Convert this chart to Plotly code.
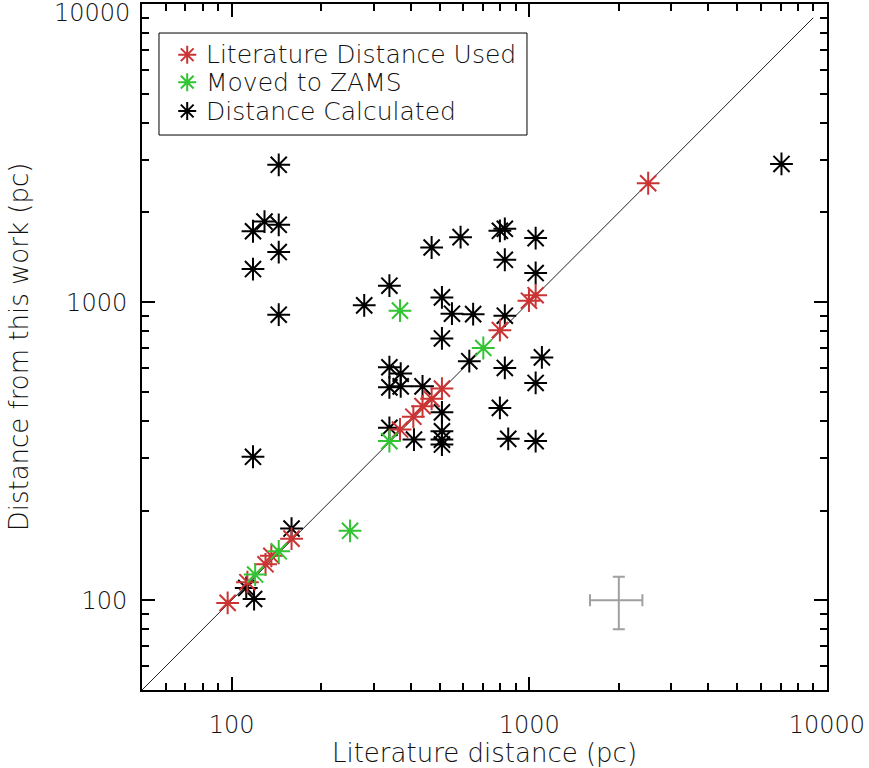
import plotly.graph_objects as go

# Distances in parsec: (literature value, value derived in this work)
calc_lit = [118, 129, 144, 144, 144, 118, 144, 118, 159, 119, 112,
            279, 339, 470, 588, 797, 828, 1051, 828, 1051,
            509, 550, 648, 828, 509, 629, 1103, 828, 1051,
            339, 370, 339, 370, 438, 509, 797, 339, 410, 509, 509, 509,
            850, 1051, 7040]
calc_this = [1730, 1865, 1818, 2890, 1473, 1292, 908, 303, 174, 101, 110,
             976, 1136, 1526, 1653, 1736, 1763, 1641, 1388, 1253,
             1038, 915, 912, 901, 756, 634, 653, 602, 536,
             605, 576, 518, 522, 522, 427, 442, 379, 346, 369, 346, 333,
             348, 342, 2910]

lit_lit = [97, 113, 130, 136, 159, 368, 408, 438, 470, 509, 797, 998, 1051, 2510]
lit_this = [98, 115, 132, 141, 161, 374, 413, 448, 474, 513, 806, 1012, 1056, 2507]

zams_lit = [120, 144, 250, 339, 368, 701]
zams_this = [122, 146, 171, 342, 937, 702]

# Typical uncertainty shown as a single cross
err_x, err_y = [2000], [100]
err_dx, err_dy = [400], [20]

one_to_one = [50, 9000]

major_ticks = [100, 1000, 10000]
major_text = ["100", "1000", "10000"]

legend_names = ["Literature Distance Used", "Moved to ZAMS", "Distance Calculated"]

RED = "#cc3333"
GREEN = "#33c433"
TXT = "#111111"
FONT = "DejaVu Sans, sans-serif"
FS = 24


def txt_font(size=FS):
    return dict(family=FONT, size=size, color=TXT, weight=200)


fig = go.Figure()

fig.add_trace(go.Scatter(x=one_to_one, y=one_to_one, mode="lines",
                         line=dict(color="#222222", width=1), showlegend=False,
                         hoverinfo="skip"))

fig.add_trace(go.Scatter(x=err_x, y=err_y, mode="markers",
                         marker=dict(size=1, color="rgba(0,0,0,0)"),
                         error_x=dict(type="data", array=err_dx, color="#a0a0a0",
                                      thickness=2, width=6),
                         error_y=dict(type="data", array=err_dy, color="#a0a0a0",
                                      thickness=2, width=6),
                         showlegend=False))


def stars(x, y, color, name, size=19, **kw):
    return go.Scatter(x=x, y=y, mode="markers", name=name, showlegend=False,
                      marker=dict(symbol="asterisk-open", size=size, color=color,
                                  line=dict(color=color, width=2)), **kw)


fig.add_trace(stars(calc_lit, calc_this, "black", legend_names[2]))
fig.add_trace(stars(lit_lit, lit_this, RED, legend_names[0]))
fig.add_trace(stars(zams_lit, zams_this, GREEN, legend_names[1]))

# Boxed key in the upper left, drawn on a unit overlay axis
key_colors = [RED, GREEN, "black"]
key_rows = [0.926, 0.886, 0.844]
key_sym_x = 0.066
key_txt_x = 0.090
for name, col, ky in zip(legend_names, key_colors, key_rows):
    fig.add_trace(stars([key_sym_x], [ky], col, name, size=15,
                        xaxis="x2", yaxis="y2", hoverinfo="skip"))
    fig.add_annotation(xref="paper", yref="paper", x=key_txt_x, y=ky,
                       xanchor="left", yanchor="middle", text=name,
                       showarrow=False, font=txt_font(25))
fig.add_shape(type="rect", xref="paper", yref="paper",
              x0=0.0248, x1=0.5620, y0=0.8090, y1=0.9577,
              line=dict(color="black", width=1), fillcolor="rgba(0,0,0,0)")

minor_vals = [50, 60, 70, 80, 90] + [v * 100 for v in range(2, 10)] + [v * 1000 for v in range(2, 10)]

axis_common = dict(
    type="log",
    range=[1.69897, 4.0005],
    automargin=False,
    tickmode="array",
    tickvals=major_ticks,
    ticks="inside",
    ticklen=13,
    tickwidth=2,
    tickcolor="black",
    showline=True,
    linecolor="black",
    linewidth=2,
    mirror="ticks",
    showgrid=False,
    zeroline=False,
    tickfont=txt_font(),
    minor=dict(tickmode="array", tickvals=minor_vals, ticks="inside",
               ticklen=7, tickwidth=2, tickcolor="black", showgrid=False),
)

fig.update_xaxes(**axis_common, ticktext=major_text, ticklabelstandoff=12,
                 title=dict(text="Literature distance (pc)", standoff=12,
                            font=txt_font(26)))
# The top y label sits against the page edge, so it is placed as an annotation
fig.update_yaxes(**axis_common, ticktext=major_text[:-1] + [""], ticklabelstandoff=8,
                 title=dict(text="Distance from this work (pc)", standoff=30,
                            font=txt_font(26)))
fig.add_annotation(xref="paper", yref="y", x=0, y=4.0, xanchor="right",
                   yanchor="middle", xshift=-10, yshift=-9, text=major_text[-1],
                   showarrow=False, font=txt_font())

fig.update_layout(
    width=869, height=768,
    margin=dict(l=142, r=42, t=4, b=78, autoexpand=False),
    plot_bgcolor="white",
    paper_bgcolor="white",
    font=dict(family=FONT, color=TXT),
    showlegend=False,
    xaxis2=dict(overlaying="x", range=[0, 1], visible=False, fixedrange=True),
    yaxis2=dict(overlaying="y", range=[0, 1], visible=False, fixedrange=True),
)

fig.write_html("out.html")
